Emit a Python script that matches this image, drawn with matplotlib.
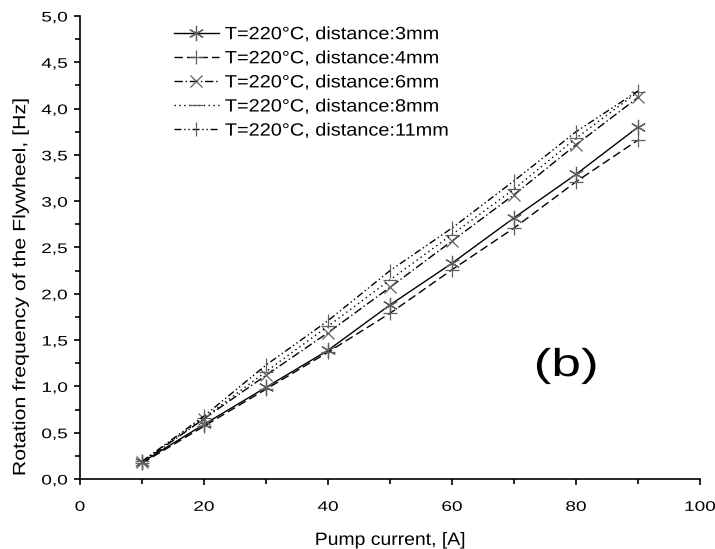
import matplotlib
matplotlib.use("Agg")
import matplotlib.pyplot as plt
from matplotlib.ticker import MultipleLocator, FuncFormatter
from matplotlib.patheffects import AbstractPathEffect
from matplotlib.transforms import Affine2D

current = [10, 20, 30, 40, 50, 60, 70, 80, 90]
freq_3mm = [0.18, 0.59, 0.99, 1.39, 1.88, 2.33, 2.82, 3.29, 3.80]
freq_4mm = [0.17, 0.57, 0.97, 1.37, 1.79, 2.26, 2.71, 3.21, 3.66]
freq_6mm = [0.18, 0.65, 1.12, 1.58, 2.07, 2.57, 3.07, 3.61, 4.12]
freq_8mm = [0.19, 0.66, 1.16, 1.65, 2.15, 2.64, 3.13, 3.68, 4.18]
freq_11mm = [0.19, 0.68, 1.23, 1.71, 2.25, 2.71, 3.22, 3.75, 4.19]
labels = ["T=220°C, distance:3mm", "T=220°C, distance:4mm", "T=220°C, distance:6mm",
          "T=220°C, distance:8mm", "T=220°C, distance:11mm"]

plt.rcParams['font.family'] = ['Liberation Sans', 'DejaVu Sans']


class Stretch(AbstractPathEffect):
    """Widen glyphs along the text direction (the reference lettering is wide)."""
    def __init__(self, sx=1.0, sy=1.0, anchor='left'):
        super().__init__((0, 0))
        self.sx, self.sy, self.anchor = sx, sy, anchor

    def draw_path(self, renderer, gc, tpath, affine, rgbFace=None):
        if len(tpath.vertices) == 0:
            return
        ext = tpath.get_extents()
        if self.anchor == 'left':
            cx = ext.x0
        elif self.anchor == 'center':
            cx = 0.5 * (ext.x0 + ext.x1)
        else:
            cx = ext.x1
        cy = 0.5 * (ext.y0 + ext.y1)
        tr = Affine2D().translate(-cx, -cy).scale(self.sx, self.sy).translate(cx, cy) + affine
        renderer.draw_path(gc, tpath, tr, rgbFace)


fig = plt.figure(figsize=(7.15, 5.49), dpi=100)
ax = fig.add_axes([80 / 715, 70 / 549, 620 / 715, 463 / 549])

mc = '#606060'
styles = [
    dict(ls='-', marker=(6, 2, 0), ms=11),
    dict(ls=(0, (6, 3)), marker='+', ms=10),
    dict(ls=(0, (6, 2, 1, 2)), marker='x', ms=9),
    dict(ls=(0, (1, 2.5)), marker='_', ms=10),
    dict(ls=(0, (5, 2, 1, 2, 1, 2)), marker='|', ms=10),
]
series = [freq_3mm, freq_4mm, freq_6mm, freq_8mm, freq_11mm]
for s, st, lab in zip(series, styles, labels):
    ax.plot(current, s, color='black', lw=1.0, ls=st['ls'], marker=st['marker'],
            ms=st['ms'], mec=mc, mfc=mc, mew=0.9, label=lab)

ax.set_xlim(0, 100)
ax.set_ylim(0, 5.0)
ax.xaxis.set_major_locator(MultipleLocator(20))
ax.xaxis.set_minor_locator(MultipleLocator(10))
ax.yaxis.set_major_locator(MultipleLocator(0.5))
ax.yaxis.set_minor_locator(MultipleLocator(0.25))
ax.yaxis.set_major_formatter(FuncFormatter(lambda v, p: f"{v:.1f}".replace('.', ',')))
ax.tick_params(which='both', direction='out', labelsize=10, width=1.2)
ax.tick_params(which='major', length=4)
ax.tick_params(which='minor', length=3.5)
ax.tick_params(axis='x', which='major', pad=11)
ax.tick_params(axis='y', which='major', pad=5)
for sp in ['top', 'right']:
    ax.spines[sp].set_visible(False)
for sp in ['left', 'bottom']:
    ax.spines[sp].set_linewidth(1.2)

xl = ax.set_xlabel("Pump current, [A]", fontsize=12.8, labelpad=13)
yl = ax.set_ylabel("Rotation frequency of the Flywheel, [Hz]", fontsize=12.8)
ax.yaxis.set_label_coords(-0.082, 0.414)
xl.set_path_effects([Stretch(sx=1.09, anchor='center')])
yl.set_path_effects([Stretch(sx=1.2, anchor='center')])

tb = ax.text(78.4, 1.22, "(b)", fontsize=28, ha='center', va='center')
tb.set_path_effects([Stretch(sx=1.37, anchor='center')])

leg = ax.legend(loc='upper left', bbox_to_anchor=(0.152, 0.978), frameon=False, fontsize=12.8,
                handlelength=2.5, handletextpad=0.35, labelspacing=0.40, borderaxespad=0.0,
                borderpad=0.0)
for t in leg.get_texts():
    t.set_path_effects([Stretch(sx=1.12, anchor='left')])

fig.canvas.draw()
for lab in ax.get_xticklabels():
    lab.set_path_effects([Stretch(sx=1.37, anchor='center')])
for lab in ax.get_yticklabels():
    lab.set_path_effects([Stretch(sx=1.37, anchor='right')])

fig.savefig("out.png", dpi=100)
